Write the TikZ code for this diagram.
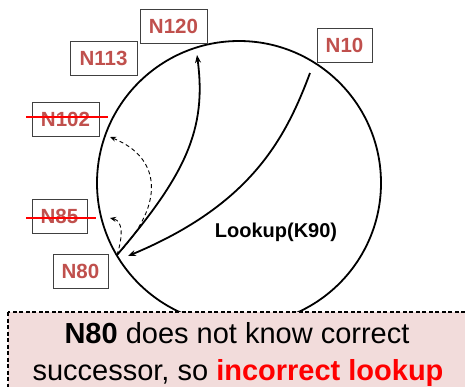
\documentclass[tikz,border=0pt]{standalone}
\usepackage{fontspec}
\setmainfont{Liberation Sans}
\usetikzlibrary{arrows.meta}
\definecolor{nodered}{HTML}{C0504D}
\definecolor{boxpink}{HTML}{F2DCDB}
\definecolor{brightred}{HTML}{FF0000}
\tikzset{
  idbox/.style={draw=black!75, line width=0.9pt, fill=white, text=nodered,
    font=\fontsize{20.5}{24}\selectfont\bfseries, inner sep=0pt,
    minimum width=67pt, minimum height=34pt},
  smallid/.style={idbox, minimum width=55pt},
  ring/.style={line width=1.8pt},
  hop/.style={line width=1.8pt, -{Stealth[length=8pt,width=6pt]}},
  dhop/.style={line width=0.9pt, dashed, dash pattern=on 4pt off 3pt, -{Stealth[length=6pt,width=5pt]}},
  strike/.style={brightred, line width=2pt},
  note/.style={draw=black, line width=1.4pt, dash pattern=on 4pt off 2.5pt, fill=boxpink}
}
\begin{document}
\begin{tikzpicture}[x=1pt,y=-1pt]
\useasboundingbox (0,0) rectangle (465,386);
% ring
\draw[ring] (239,183) circle (142);
% note box
\draw[note] (8,312) rectangle (480,400);
\node[anchor=base, font=\fontsize{29}{34}\selectfont] (t1) at (237,343) {\textbf{N80} does not know correct};
\node[anchor=base, font=\fontsize{29}{34}\selectfont] (t2) at (238,380) {successor, so \textcolor{brightred}{\textbf{incorrect lookup}}};
% id boxes
\node[idbox] (n120) at (173.5,26) {N120};
\node[idbox] (n113) at (103.5,58) {N113};
\node[idbox] (n102) at (65.5,119) {N102};
\node[smallid] (n10) at (344.5,45) {N10};
\node[smallid] (n85) at (59.5,216) {N85};
\node[smallid] (n80) at (80.5,271) {N80};
\draw[strike] (26,117) -- (108,117);
\draw[strike] (26,218) -- (96,218);
% points on ring
\coordinate (p10) at (310,73);
\coordinate (p80) at (117,255);
\coordinate (q80) at (128,256);
\coordinate (p120) at (197,55);
\coordinate (p102) at (110,137);
\coordinate (p85) at (110,218);
% lookup label
\node[font=\fontsize{20}{24}\selectfont\bfseries] (lk) at (276,232) {Lookup(K90)};
% hops
\draw[hop] (p10) .. controls (285,140) and (250,205) .. (q80);
\draw[hop] (p80) .. controls (185,175) and (207,130) .. (p120);
\draw[dhop] (p80) .. controls (165,205) and (162,158) .. (p102);
\draw[dhop] (p80) .. controls (123,236) and (123,221) .. (p85);
\end{tikzpicture}
\end{document}
